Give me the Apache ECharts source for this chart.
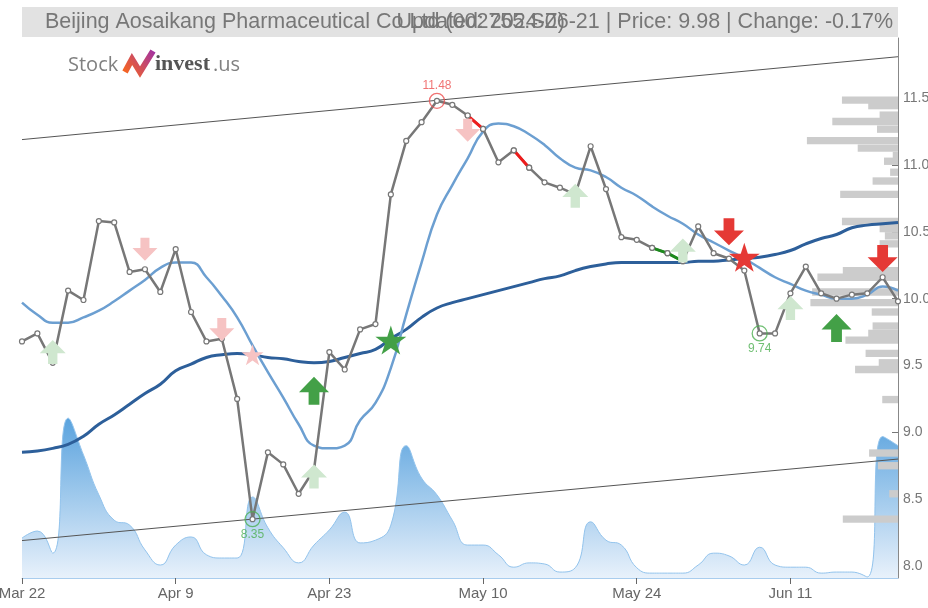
<!DOCTYPE html>
<html>
<head>
<meta charset="utf-8">
<script src="https://cdn.jsdelivr.net/npm/echarts@6/dist/echarts.min.js"></script>
<style>
  html, body { margin: 0; padding: 0; background: #fff; }
  #chart { width: 928px; height: 608px; }
</style>
</head>
<body>
<div id="chart"></div>
<script>
// trading days shown on the axis
const dates = ['Mar 22','Mar 25','Mar 26','Mar 27','Mar 28','Mar 29','Apr 1','Apr 2','Apr 3','Apr 8',
  'Apr 9','Apr 10','Apr 11','Apr 12','Apr 15','Apr 16','Apr 17','Apr 18','Apr 19','Apr 22',
  'Apr 23','Apr 24','Apr 25','Apr 26','Apr 29','Apr 30','May 6','May 7','May 8','May 9',
  'May 10','May 13','May 14','May 15','May 16','May 17','May 20','May 21','May 22','May 23',
  'May 24','May 27','May 28','May 29','May 30','Jun 3','Jun 4','Jun 5','Jun 6','Jun 7',
  'Jun 11','Jun 12','Jun 13','Jun 14','Jun 17','Jun 18','Jun 19','Jun 20'];

const close = [9.68, 9.74, 9.52, 10.06, 9.99, 10.58, 10.57, 10.20, 10.22, 10.05,
  10.37, 9.90, 9.68, 9.70, 9.25, 8.35, 8.85, 8.76, 8.54, 8.72,
  9.60, 9.47, 9.77, 9.81, 10.78, 11.18, 11.32, 11.48, 11.45, 11.37,
  11.27, 11.02, 11.11, 10.98, 10.87, 10.83, 10.78, 11.14, 10.82, 10.46,
  10.44, 10.38, 10.34, 10.28, 10.54, 10.34, 10.30, 10.21, 9.74, 9.74,
  10.04, 10.24, 10.04, 10.00, 10.03, 10.04, 10.16, 9.98];

const maShort = [9.97, 9.88, 9.82, 9.82, 9.86, 9.91, 9.98, 10.06, 10.14, 10.23,
  10.27, 10.27, 10.16, 10.02, 9.86, 9.65, 9.45, 9.26, 9.06, 8.90,
  8.88, 8.90, 9.09, 9.22, 9.48, 9.88, 10.27, 10.63, 10.85, 11.05,
  11.25, 11.31, 11.29, 11.23, 11.15, 11.05, 10.98, 10.96, 10.91, 10.83,
  10.77, 10.69, 10.62, 10.56, 10.48, 10.42, 10.36, 10.30, 10.23, 10.16,
  10.11, 10.06, 10.03, 10.00, 10.00, 10.03, 10.09, 10.06];

const maLong = [8.85, 8.86, 8.88, 8.91, 8.97, 9.06, 9.13, 9.21, 9.29, 9.36,
  9.46, 9.51, 9.56, 9.58, 9.59, 9.58, 9.56, 9.55, 9.53, 9.52,
  9.53, 9.56, 9.59, 9.62, 9.70, 9.77, 9.86, 9.93, 9.97, 10.00,
  10.03, 10.06, 10.09, 10.12, 10.15, 10.17, 10.21, 10.24, 10.26, 10.27,
  10.27, 10.27, 10.27, 10.27, 10.28, 10.28, 10.29, 10.30, 10.31, 10.33,
  10.36, 10.41, 10.45, 10.48, 10.53, 10.55, 10.56, 10.57];

// volume, millions
const volume = [0.74, 0.87, 0.46, 2.96, 2.28, 1.54, 1.07, 0.98, 0.52, 0.24,
  0.61, 0.76, 0.43, 0.37, 0.37, 1.50, 0.93, 0.56, 0.28, 0.61,
  0.89, 1.22, 0.65, 0.70, 0.98, 2.45, 1.85, 1.54, 1.07, 0.61,
  0.61, 0.43, 0.20, 0.28, 0.26, 0.11, 0.19, 1.04, 0.70, 0.61,
  0.19, 0.09, 0.09, 0.09, 0.24, 0.46, 0.41, 0.24, 0.57, 0.24,
  0.20, 0.20, 0.09, 0.11, 0.11, 0.02, 2.62, 2.45];

// volume by price: [relative volume, price]
const profile = [[6.4, 11.485], [3.4, 11.444], [2.1, 11.373], [7.5, 11.325], [2.4, 11.268],
  [10.4, 11.182], [4.6, 11.126], [0.6, 11.07], [1.6, 11.028], [0.9, 10.946], [2.9, 10.88],
  [6.6, 10.78], [6.4, 10.577], [2.1, 10.524], [1.5, 10.47], [2.1, 10.41], [6.3, 10.21],
  [9.2, 10.16], [9.8, 10.05], [10.0, 9.97], [3.0, 9.90], [2.9, 9.795], [3.4, 9.74],
  [6.0, 9.69], [3.7, 9.59], [2.2, 9.52], [4.9, 9.47], [1.8, 9.245], [3.3, 8.845],
  [2.3, 8.75], [1.0, 8.54], [6.3, 8.35]];
const profBin = 0.055;

// trend channel: [index, price] at both ends
const channelTop = [[0, 11.19], [57, 11.81]];
const channelBottom = [[0, 8.19], [57, 8.80]];

// signals: [index, price]
const sellWeak = [[8, 10.37], [13, 9.77], [29, 11.26]];
const sellStrong = [[46, 10.50], [56, 10.30]];
const buyWeak = [[2, 9.60], [19, 8.67], [36, 10.77], [43, 10.36], [50, 9.93]];
const buyStrong = [[19, 9.31], [53, 9.78]];
const starWeak = [[15, 9.58]];
const starBuy = [[24, 9.69]];
const starSell = [[47, 10.31]];
const highIdx = [27];
const lowIdx = [15, 48];
const redSegs = [[29, 30], [32, 33]];
const greenSegs = [[41, 43]];

const priceTicks = [8.0, 8.5, 9.0, 9.5, 10.0, 10.5, 11.0, 11.5];

const font = "'Liberation Sans', Arial, sans-serif";
const arrowDown = 'path://M32,0 L68,0 L68,45 L100,45 L50,100 L0,45 L32,45 Z';
const arrowUp = 'path://M50,0 L100,55 L68,55 L68,100 L32,100 L32,55 L0,55 Z';
const star = 'path://M50,0 L61,35 L98,35 L68,57 L79,91 L50,70 L21,91 L32,57 L2,35 L39,35 Z';

function seg(ranges) {
  return close.map((v, i) => ranges.some(([a, b]) => i >= a && i <= b) ? v : null);
}

function marks(name, data, symbol, size, color) {
  return {
    name, type: 'scatter', data, symbol, symbolSize: size,
    itemStyle: { color, opacity: 1 }, z: 7, silent: true
  };
}

const chart = echarts.init(document.getElementById('chart'));
chart.setOption({
  animation: false,
  backgroundColor: '#fff',
  grid: { left: 22, right: 30, top: 38, bottom: 30, containLabel: false, outerBoundsMode: 'none' },
  xAxis: [
    {
      type: 'category', data: dates, boundaryGap: false,
      axisLine: { lineStyle: { color: '#a9cdee', width: 1 } },
      axisTick: { interval: 9, length: 6, lineStyle: { color: '#666' } },
      axisLabel: { interval: 9, fontSize: 15, color: '#666', fontFamily: font, margin: 8 },
      splitLine: { show: false }
    },
    { type: 'value', gridIndex: 0, position: 'top', inverse: true, min: 0, max: 100, show: false }
  ],
  yAxis: [
    {
      type: 'value', position: 'right', min: 7.91, max: 11.95, scale: true,
      axisLine: { show: true, lineStyle: { color: '#888' } },
      axisTick: { show: true, inside: true, length: 6, customValues: priceTicks, lineStyle: { color: '#777' } },
      axisLabel: { customValues: priceTicks, fontSize: 14, color: '#777', fontFamily: font, margin: 5,
        formatter: v => v.toFixed(1) },
      splitLine: { show: false }
    },
    { type: 'value', min: 0, max: 10, show: false }
  ],
  graphic: [
    { type: 'rect', shape: { x: 22, y: 7, width: 876, height: 30 }, style: { fill: '#e2e2e2' }, z: 10 },
    { type: 'text', x: 45, y: 22, style: { text: 'Beijing Aosaikang Pharmaceutical Co Ltd (002755.SZ)',
      font: "21.5px 'Liberation Sans', Arial, sans-serif", fill: '#777', verticalAlign: 'middle' }, z: 11 },
    { type: 'text', x: 893, y: 22, style: { text: 'Updated: 2024-06-21 | Price: 9.98 | Change: -0.17%',
      font: "21.5px 'Liberation Sans', Arial, sans-serif", fill: '#777', align: 'right', verticalAlign: 'middle' }, z: 11 },
    { type: 'text', x: 68, y: 65, style: { text: 'Stock', font: "20px 'Open Sans', sans-serif",
      fill: '#808080', verticalAlign: 'middle' }, z: 11 },
    { type: 'polyline', shape: { points: [[125, 72], [132, 59], [140, 72], [153, 51]] },
      style: { lineWidth: 6, stroke: new echarts.graphic.LinearGradient(0, 1, 1, 0, [
        { offset: 0, color: '#ff6a13' }, { offset: 1, color: '#9b2fae' }]), lineJoin: 'miter' }, z: 11 },
    { type: 'text', x: 155, y: 64, style: { text: 'invest', font: "bold 22px 'Liberation Serif', serif",
      fill: '#555', verticalAlign: 'middle' }, z: 11 },
    { type: 'text', x: 213, y: 65, style: { text: '.us', font: "20px 'Open Sans', sans-serif",
      fill: '#808080', verticalAlign: 'middle' }, z: 11 }
  ],
  series: [
    {
      name: 'Volume', type: 'line', xAxisIndex: 0, yAxisIndex: 1, data: volume,
      smooth: true, symbol: 'none', z: 1, silent: true,
      lineStyle: { color: '#92c3ec', width: 1 },
      areaStyle: { color: new echarts.graphic.LinearGradient(0, 0, 0, 1, [
        { offset: 0, color: '#5aa3de' }, { offset: 1, color: '#e8f1fb' }]), opacity: 1 }
    },
    {
      name: 'Profile', type: 'custom', xAxisIndex: 1, yAxisIndex: 0, data: profile, z: 2, silent: true,
      encode: { x: 0, y: 1 },
      renderItem(params, api) {
        const v = api.value(0), p = api.value(1);
        const a = api.coord([0, p + profBin / 2]);
        const b = api.coord([v, p - profBin / 2]);
        return { type: 'rect', shape: { x: Math.min(a[0], b[0]), y: a[1],
          width: Math.abs(a[0] - b[0]), height: b[1] - a[1] }, style: { fill: '#cccccc' } };
      }
    },
    { name: 'Top', type: 'line', data: channelTop, symbol: 'none', z: 3, silent: true,
      lineStyle: { color: '#555', width: 1 } },
    { name: 'Bottom', type: 'line', data: channelBottom, symbol: 'none', z: 3, silent: true,
      lineStyle: { color: '#555', width: 1 } },
    { name: 'MA long', type: 'line', data: maLong, smooth: true, symbol: 'none', z: 4,
      lineStyle: { color: '#2d5f9a', width: 3 } },
    { name: 'MA short', type: 'line', data: maShort, smooth: true, symbol: 'none', z: 4,
      lineStyle: { color: '#6c9fd1', width: 2.5 } },
    { name: 'Close', type: 'line', data: close, symbol: 'circle', symbolSize: 5, z: 5,
      lineStyle: { color: '#777', width: 2.5 },
      itemStyle: { color: '#fff', borderColor: '#777', borderWidth: 1.2 } },
    { name: 'Down', type: 'line', data: seg(redSegs), symbol: 'circle', symbolSize: 5, z: 6,
      lineStyle: { color: '#ee1c1c', width: 3 },
      itemStyle: { color: '#fff', borderColor: '#777', borderWidth: 1.2 } },
    { name: 'Up', type: 'line', data: seg(greenSegs), symbol: 'circle', symbolSize: 5, z: 6,
      lineStyle: { color: '#1c8a1c', width: 3 },
      itemStyle: { color: '#fff', borderColor: '#777', borderWidth: 1.2 } },
    marks('Sell weak', sellWeak, arrowDown, [25, 23], '#f6c3c3'),
    marks('Buy weak', buyWeak, arrowUp, [26, 24], '#cfe7cf'),
    marks('Star weak', starWeak, star, [22, 21], '#f6c3c3'),
    marks('Sell', sellStrong, arrowDown, [30, 27], '#e53935'),
    marks('Buy', buyStrong, arrowUp, [30, 28], '#43a047'),
    marks('Star buy', starBuy, star, [31, 29], '#43a047'),
    marks('Star sell', starSell, star, [31, 29], '#e53935'),
    {
      name: 'High', type: 'scatter', z: 8, silent: true,
      data: highIdx.map(i => [i, close[i]]), symbol: 'circle', symbolSize: 15,
      itemStyle: { color: 'rgba(0,0,0,0)', borderColor: '#ec5050', borderWidth: 1.3 },
      label: { show: true, position: 'top', distance: 1, color: '#ec5050', fontSize: 12, fontFamily: font,
        formatter: p => p.value[1].toFixed(2) }
    },
    {
      name: 'Low', type: 'scatter', z: 8, silent: true,
      data: lowIdx.map(i => [i, close[i]]), symbol: 'circle', symbolSize: 15,
      itemStyle: { color: 'rgba(0,0,0,0)', borderColor: '#4caf50', borderWidth: 1.3 },
      label: { show: true, position: 'bottom', distance: 1, color: '#4caf50', fontSize: 12, fontFamily: font,
        formatter: p => p.value[1].toFixed(2) }
    }
  ]
});
</script>
</body>
</html>
